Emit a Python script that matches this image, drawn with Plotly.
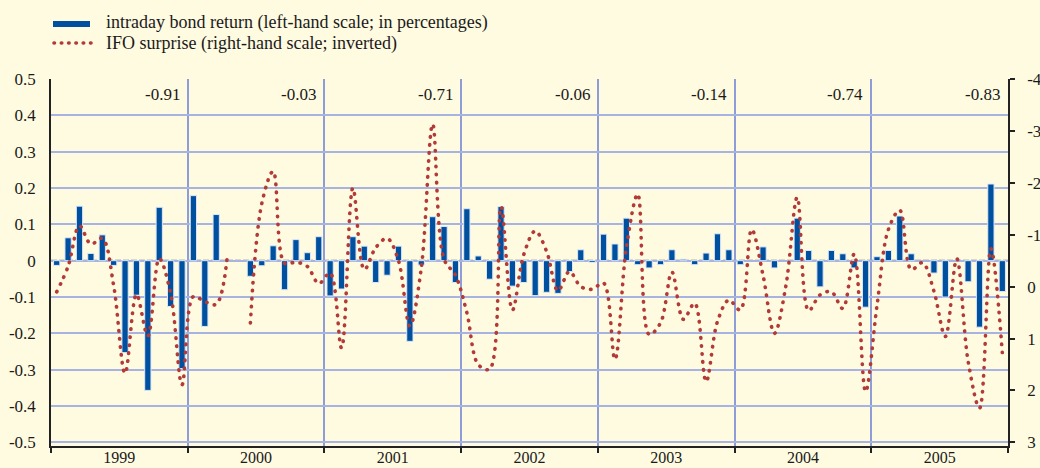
import plotly.graph_objects as go

years = ["1999", "2000", "2001", "2002", "2003", "2004", "2005"]
correlations = ["-0.91", "-0.03", "-0.71", "-0.06", "-0.14", "-0.74", "-0.83"]

# intraday bond return, monthly (left-hand scale; in percentages)
bond_return = [
    -0.013, 0.063, 0.150, 0.020, 0.071, -0.013, -0.253, -0.095, -0.357, 0.147, -0.126, -0.297,
    0.179, -0.181, 0.127, None, None, -0.043, -0.014, 0.041, -0.080, 0.058, 0.022, 0.066,
    -0.097, -0.078, 0.066, 0.040, -0.060, -0.040, 0.040, -0.222, -0.012, 0.121, 0.094, -0.060,
    0.143, 0.013, -0.051, 0.149, -0.070, -0.060, -0.096, -0.087, -0.090, -0.030, 0.030, -0.005,
    0.073, 0.046, 0.117, -0.011, -0.020, -0.011, 0.030, 0.004, -0.011, 0.021, 0.074, 0.030,
    -0.011, None, 0.038, -0.020, None, 0.117, 0.028, -0.072, 0.028, 0.019, -0.020, -0.128,
    0.011, 0.028, 0.123, 0.019, None, -0.034, -0.100, None, -0.058, -0.183, 0.211, -0.085,
]

# IFO surprise, monthly (right-hand scale; inverted)
ifo_surprise = [
    0.10, -0.39, -1.17, -0.82, -0.93, -0.02, 1.67, 0.15, 0.95, -0.54, 0.13, 1.89,
    0.19, 0.29, 0.34, -0.64, None, 0.70, -1.60, -2.22, -0.45, -0.47, -0.39, -0.06,
    -0.26, 1.18, -1.90, -0.33, -0.75, -0.93, -0.50, 0.76, -0.36, -3.13, -0.53, -0.22,
    0.50, 1.50, 1.59, -1.54, 0.45, -0.62, -1.07, -0.68, 0.08, -0.29, 0.00, 0.05,
    -0.07, 1.40, -0.75, -1.78, 0.92, 0.70, -0.28, 0.63, 0.32, 1.83, 0.67, 0.26,
    0.45, -1.10, -0.22, 0.90, -0.01, -1.72, 0.46, 0.16, 0.10, 0.42, -0.63, 2.02,
    0.37, -1.10, -1.47, -0.33, -0.46, 0.09, 0.96, -0.54, 1.44, 2.34, -0.73, 1.27,
]

left_ticks = [0.5, 0.4, 0.3, 0.2, 0.1, 0, -0.1, -0.2, -0.3, -0.4, -0.5]
right_ticks = [-4, -3, -2, -1, 0, 1, 2, 3]

n_months = len(bond_return)
month_pos = [i + 0.5 for i in range(n_months)]
year_bounds = [12 * k for k in range(len(years) + 1)]
year_centers = [12 * k + 6 for k in range(len(years))]

FONT = "Liberation Serif"
BG = "#FFFBE1"
BLUE = "#0050A0"
RED = "#B33A36"
GRID = "#A7B4E2"
DOT = "0.5px,7.5px"

fig = go.Figure()
fig.add_trace(go.Bar(
    x=month_pos, y=bond_return, marker=dict(color=BLUE, line=dict(color="#DDE7F6", width=1)),
    yaxis="y", showlegend=False,
))
fig.add_trace(go.Scatter(
    x=month_pos, y=ifo_surprise, mode="lines", yaxis="y2", connectgaps=False,
    line=dict(color=RED, width=3.6, dash=DOT, shape="spline", smoothing=1.0),
    showlegend=False,
))

# plot-area geometry (pixels) for manual legend placement
L, R, T, B = 51, 32, 79, 22
W, H = 1040 - L - R, 468 - T - B
def px(xp):
    return (xp - L) / W
def py(yp):
    return (468 - B - yp) / H

shapes = [
    dict(type="line", xref="paper", yref="y", x0=0, x1=1, y0=0, y1=0,
         line=dict(color="#707070", width=2, dash="6px,2px"), layer="below"),
    dict(type="line", xref="paper", yref="paper", x0=px(53), x1=px(90), y0=py(24), y1=py(24),
         line=dict(color=BLUE, width=6)),
    dict(type="line", xref="paper", yref="paper", x0=px(54), x1=px(92), y0=py(43), y1=py(43),
         line=dict(color=RED, width=3.6, dash="0.5px,6.8px")),
]

annotations = [
    dict(text="intraday bond return (left-hand scale; in percentages)", xref="paper", yref="paper",
         x=px(104), y=py(23), xanchor="left", yanchor="middle", showarrow=False,
         font=dict(family=FONT, size=18, color="#1a1a1a")),
    dict(text="IFO surprise (right-hand scale; inverted)", xref="paper", yref="paper",
         x=px(104), y=py(43), xanchor="left", yanchor="middle", showarrow=False,
         font=dict(family=FONT, size=18, color="#1a1a1a")),
]
for k, c in enumerate(correlations):
    annotations.append(dict(text=c, x=year_bounds[k + 1], xref="x", y=py(95), yref="paper",
                            xanchor="right", yanchor="middle", xshift=-6, showarrow=False,
                            font=dict(family=FONT, size=17, color="#1a1a1a")))

fig.update_layout(
    width=1040, height=468,
    margin=dict(l=L, r=R, t=T, b=B, autoexpand=False),
    paper_bgcolor=BG, plot_bgcolor=BG,
    font=dict(family=FONT, size=17, color="#1a1a1a"),
    bargap=0.45,
    shapes=shapes, annotations=annotations,
    xaxis=dict(
        range=[0, n_months], tickmode="array", tickvals=year_centers, ticktext=years,
        ticks="", showgrid=False, zeroline=False, showline=True, linecolor="#222", linewidth=1.5,
        ticklabelstandoff=-4, automargin=False, ticklabeloverflow="allow",
        tickfont=dict(family=FONT, size=16, color="#1a1a1a"),
        minor=dict(tickmode="array", tickvals=year_bounds, ticks="outside", ticklen=5,
                   tickcolor="#222", tickwidth=1.5, showgrid=True, gridcolor="#8E9DD8", gridwidth=1.5),
    ),
    yaxis=dict(
        range=[-0.51, 0.5], tickmode="array", tickvals=left_ticks,
        ticktext=[f"{v:g}" for v in left_ticks], ticks="", ticklabelstandoff=10, automargin=False,
        showgrid=True, gridcolor=GRID, gridwidth=1.5, zeroline=False,
        showline=True, linecolor="#222", linewidth=1.5, ticklabeloverflow="allow",
    ),
    yaxis2=dict(
        range=[3.07, -4], overlaying="y", side="right", tickmode="array", tickvals=right_ticks,
        ticktext=[f"{v:g}" for v in right_ticks], ticks="outside", ticklen=5, tickwidth=1.5,
        tickcolor="#222", ticklabelstandoff=9, showgrid=False, zeroline=False, automargin=False,
        showline=True, linecolor="#222", linewidth=1.5, ticklabeloverflow="allow",
    ),
)

page_fix = """
document.documentElement.style.margin = '0';
document.body.style.margin = '0';
document.body.style.background = '#FFFBE1';
var gd = document.getElementById('{plot_id}');
function roundDots() {
  gd.querySelectorAll('path').forEach(function (p) {
    var d = p.style.strokeDasharray || '';
    if (d.indexOf('0.5px') === 0) { p.style.strokeLinecap = 'round'; }
  });
}
roundDots();
gd.on('plotly_afterplot', roundDots);
"""

fig.write_html("out.html", post_script=page_fix, config={"displayModeBar": False})
